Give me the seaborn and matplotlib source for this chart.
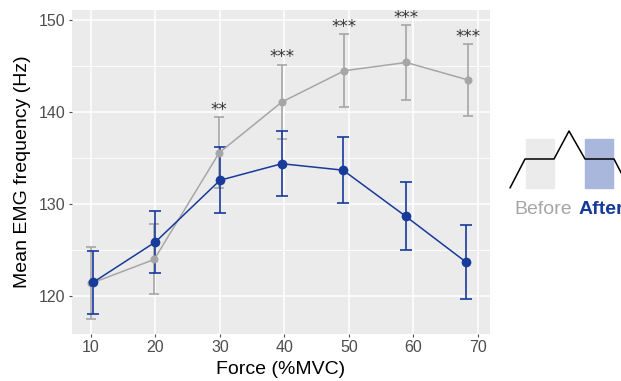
import matplotlib
matplotlib.use("Agg")
import matplotlib.pyplot as plt
from matplotlib.ticker import MultipleLocator
from matplotlib.patches import Rectangle
import seaborn as sns
import pandas as pd

# values
force_before = [10.0, 19.8, 29.9, 39.6, 49.3, 58.9, 68.5]
mean_before = [121.4, 124.0, 135.6, 141.1, 144.5, 145.4, 143.5]
sd_before = [3.9, 3.8, 3.85, 4.05, 3.95, 4.05, 3.9]

force_after = [10.3, 20.0, 30.0, 39.6, 49.1, 58.8, 68.2]
mean_after = [121.5, 125.9, 132.6, 134.4, 133.7, 128.7, 123.7]
sd_after = [3.4, 3.35, 3.6, 3.55, 3.6, 3.7, 4.0]

stars = ["", "", "**", "***", "***", "***", "***"]
x_ticks = [10, 20, 30, 40, 50, 60, 70]

# schematic for the legend (pixel-like units of the small inset)
trace_x = [510, 525, 554, 569, 585, 614, 629]
trace_y = [188, 159, 159, 131, 159, 159, 188]

grey = "#A6A6A6"
blue = "#173A9B"

sns.set_theme(style="darkgrid", rc={
    "axes.facecolor": "#EBEBEB",
    "grid.color": "white",
    "grid.linewidth": 1.1,
})
plt.rcParams["font.family"] = ["Liberation Sans", "DejaVu Sans"]

df = pd.concat([
    pd.DataFrame({"force": force_before, "freq": mean_before, "sd": sd_before, "cond": "Before"}),
    pd.DataFrame({"force": force_after, "freq": mean_after, "sd": sd_after, "cond": "After"}),
])

fig = plt.figure(figsize=(6.21, 3.81), dpi=100)
ax = fig.add_axes([72 / 621, 1 - 334 / 381, 418 / 621, 324 / 381])

palette = {"Before": grey, "After": blue}
caps = {"Before": 3.6, "After": 4.4}
for cond in ["Before", "After"]:
    sub = df[df["cond"] == cond]
    ax.errorbar(sub["force"], sub["freq"], yerr=sub["sd"], fmt="none",
                ecolor=palette[cond], elinewidth=1.2, capsize=caps[cond],
                capthick=1.2, zorder=3)
    sns.lineplot(data=sub, x="force", y="freq", ax=ax, color=palette[cond],
                 marker="o", markersize=7 if cond == "After" else 5.8,
                 markeredgewidth=0, linewidth=1.1, zorder=4, legend=False)

for x, m, s, t in zip(force_before, mean_before, sd_before, stars):
    if t:
        ax.text(x, m + s + 0.25, t, ha="center", va="baseline",
                fontsize=12, color="#333333", family="DejaVu Sans")

ax.set_xlim(7.05, 71.9)
ax.set_ylim(115.9, 151.1)
ax.set_xticks(x_ticks)
ax.yaxis.set_major_locator(MultipleLocator(10))
ax.yaxis.set_minor_locator(MultipleLocator(5))
ax.grid(which="minor", axis="y", color="white", linewidth=0.6)
ax.grid(which="major", axis="x", color="white", linewidth=1.1)
ax.tick_params(axis="both", which="major", length=2.5, width=0.8,
               color="#4D4D4D", labelsize=11.5, labelcolor="#4D4D4D", pad=2,
               bottom=True, left=True)
ax.tick_params(axis="y", which="minor", length=0)
ax.set_xlabel("Force (%MVC)", fontsize=14, color="black", labelpad=4)
ax.set_ylabel("Mean EMG frequency (Hz)", fontsize=14, color="black", labelpad=6)
for sp in ax.spines.values():
    sp.set_visible(False)

# legend schematic on the right (the "After" label runs off the edge, as in the original)
lg = fig.add_axes([500 / 621, 1 - 235 / 381, 121 / 621, 115 / 381])
lg.set_xlim(500, 621)
lg.set_ylim(235, 120)
lg.axis("off")
lg.add_patch(Rectangle((526, 139), 28, 49, color="#EBEBEB", zorder=1))
lg.add_patch(Rectangle((585, 139), 28, 49, color="#A9B7DC", zorder=1))
lg.plot(trace_x, trace_y, color="black", linewidth=1.1, zorder=2, clip_on=False)
lg.text(514, 210, "Before", color=grey, fontsize=14, va="center", ha="left")
lg.text(579, 210, "After", color=blue, fontsize=14, fontweight="bold",
        va="center", ha="left")

fig.savefig("out.png", dpi=100)
